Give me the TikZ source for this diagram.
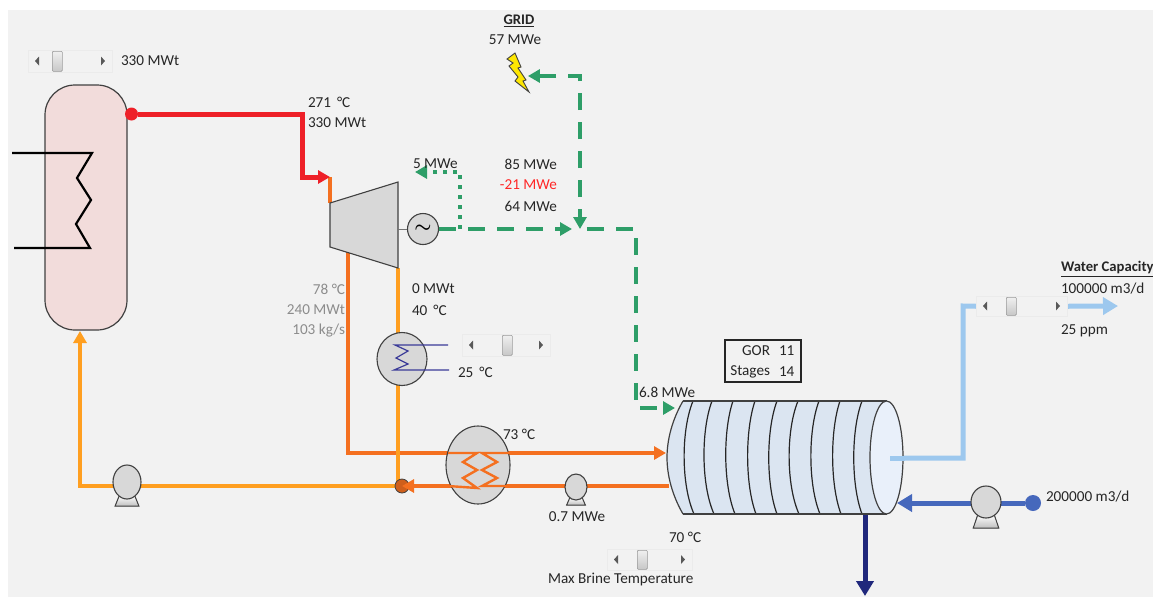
\documentclass[tikz,border=0pt]{standalone}
\usepackage{fontspec}
\setmainfont{Carlito}
\usetikzlibrary{arrows.meta,shapes.geometric,calc}
\pgfdeclarelayer{bg}\pgfdeclarelayer{pipes}\pgfsetlayers{bg,pipes,main}
\definecolor{pagegray}{HTML}{F2F2F2}
\definecolor{shapegray}{HTML}{D8D8D8}
\definecolor{reactorpink}{HTML}{F2DCDB}
\definecolor{redpipe}{HTML}{EE2028}
\definecolor{orangepipe}{HTML}{F47020}
\definecolor{amberpipe}{HTML}{FF9F20}
\definecolor{greenpipe}{HTML}{2E9E68}
\definecolor{lightbluepipe}{HTML}{9DC8EE}
\definecolor{bluepipe}{HTML}{4668BC}
\definecolor{navypipe}{HTML}{20287C}
\definecolor{coilblue}{HTML}{3A3A98}
\definecolor{bodyblue}{HTML}{DBE5F1}
\definecolor{endblue}{HTML}{E9F0FA}
\definecolor{textgray}{HTML}{8C8C8C}
\definecolor{outline}{HTML}{404040}
\def\px{0.75pt}
\tikzset{
  lbl/.style={inner sep=0pt,outer sep=0pt,font=\fontsize{11.4}{13}\selectfont,text=black!85},
  lblL/.style={lbl,anchor=west},
  lblR/.style={lbl,anchor=east},
  pipe/.style={line width=4*\px,line join=miter},
  widepipe/.style={line width=5*\px,line join=miter},
  pipetip/.style={-{Triangle[length=12*\px,width=13*\px]}},
  bigtip/.style={-{Triangle[length=15*\px,width=17*\px]}},
  greendash/.style={pipe,color=greenpipe,dash pattern=on 17*\px off 12*\px,pipetip},
  greendot/.style={pipe,color=greenpipe,dash pattern=on 4*\px off 6*\px,pipetip},
  equip/.style={draw=outline,line width=1.1*\px,fill=shapegray},
  dotnode/.style={circle,inner sep=0pt,minimum size=#1*\px},
  track/.style={rectangle,fill=black!5,draw=black!8,line width=.5*\px,inner sep=0pt,anchor=north west},
  thumb/.style={rectangle,rounded corners=1*\px,draw=black!40,line width=.6*\px,inner sep=0pt,anchor=north west,top color=black!6,bottom color=black!22},
  pumpbody/.style={ellipse,equip,inner sep=0pt},
  coilline/.style={line width=2.4*\px,line join=miter},
}
% slider: name, x1, y1, x2, y2, thumb x
\newcommand{\hmislider}[6]{%
  \node[track,minimum width={(#4-#2)*\px},minimum height={(#5-#3)*\px}] (#1) at (#2,#3) {};
  \node[thumb,minimum width=10*\px,minimum height={(#5-#3-2)*\px}] (#1t) at (#6,#3+1) {};
  \fill[black!65] ($(#2,{(#3+#5)/2})+(7,0)$) -- ++(4,-4.5) -- ++(0,9) -- cycle;
  \fill[black!65] ($(#4,{(#3+#5)/2})+(-7,0)$) -- ++(-4,-4.5) -- ++(0,9) -- cycle;
}
% pump: name, x, y, rx, ry, base bottom y
\newcommand{\hmipump}[6]{%
  \filldraw[draw=outline,line width=1*\px,top color=white,bottom color=black!25] (#2-#4*.55,#3+#5*.8) -- (#2+#4*.55,#3+#5*.8) -- (#2+#4*.85,#6) -- (#2-#4*.85,#6) -- cycle;
  \node[pumpbody,minimum width={2*#4*\px},minimum height={2*#5*\px}] (#1) at (#2,#3) {};
}
\begin{document}
\begin{tikzpicture}[x=0.75pt,y=-0.75pt]
\useasboundingbox (0,0) rectangle (1153,597);
\begin{pgfonlayer}{bg}
\fill[pagegray] (8,10) rectangle (1153,597);
\end{pgfonlayer}

% reactor
\node[rectangle,rounded corners=30*\px,draw=outline,line width=1.2*\px,fill=reactorpink,minimum width=82*\px,minimum height=245*\px,inner sep=0pt] (reactor) at (86,207.5) {};
\draw[black,line width=2.2*\px,line join=miter] (12,153) -- (92,153) -- (77,178) -- (91,200) -- (76,224) -- (90,248) -- (14,248);
\node[dotnode=13,fill=redpipe] (hotdot) at (131.5,114) {};

% turbine + generator
\filldraw[equip] (330,203) -- (398,182) -- (398,268) -- (330,247) -- cycle;
\coordinate (turbIn) at (330,177);
\coordinate (turbTop) at (330,203);
\coordinate (turbOut1) at (348,252);
\coordinate (turbOut2) at (398,268);
\node[circle,equip,minimum size=31*\px,inner sep=0pt,font=\fontsize{14}{14}\selectfont\boldmath] (gen) at (423,229) {$\sim$};
\draw[black!55,line width=.8*\px] (398,229) -- (gen.west);

% condenser
\node[ellipse,equip,minimum width=50*\px,minimum height=53*\px,inner sep=0pt] (cond) at (402,359) {};
\draw[coilblue,line width=1.2*\px] (448,345) -- (395,345) -- (408,351) -- (396,358) -- (408,364) -- (394,370) -- (449,370);

% HX
\node[ellipse,equip,minimum width=64*\px,minimum height=78*\px,inner sep=0pt] (hx) at (478,465) {};
\draw[orangepipe,coilline] (448,453) -- (477,453) -- (463,462) -- (477,470) -- (463,478) -- (477,488) -- (448,486);
\draw[orangepipe,coilline] (510,453) -- (482,453) -- (497,462) -- (482,470) -- (497,478) -- (482,486) -- (510,486);

% pumps
\hmipump{pumpA}{127}{482}{14}{17}{506}
\hmipump{pumpB}{576}{487}{11}{13}{505}
\hmipump{pumpC}{986}{502}{15}{16}{528}

% cylinder
\fill[bodyblue] (683,401) .. controls (672,420) and (667,440) .. (667,457.5) .. controls (667,475) and (672,495) .. (683,514) -- (887,514) -- (887,401) -- cycle;
\draw[outline,line width=1.2*\px] (683,401) .. controls (672,420) and (667,440) .. (667,457.5) .. controls (667,475) and (672,495) .. (683,514);
\foreach \t/\m/\b in {693/683/694,712/703/714,733/725/735,755/747/756,777/768/777,798/788/799,819/810/820,840/832/841,862/853/862}{
  \draw[black!85,line width=1.2*\px] (\t,401) .. controls (\m-2,430) and (\m-2,485) .. (\b,514);
}
\draw[outline,line width=1.2*\px] (683,401) -- (887,401) (683,514) -- (887,514);
\node[ellipse,draw=outline,line width=1.2*\px,fill=endblue,minimum width=33*\px,minimum height=113*\px,inner sep=0pt] (cylEnd) at (886.5,457.5) {};
\coordinate (cylLeftUp) at (666,453);
\coordinate (cylLeftLow) at (669,486);
\coordinate (cylPower) at (675,408);
\coordinate (brineOut) at (865,514);
\coordinate (brineTip) at (865,596);
\coordinate (feedIn) at (897,503);
\coordinate (prodStart) at (890,458);

% GOR box
\node[rectangle,draw=black!85,line width=1.2*\px,minimum width=76*\px,minimum height=42*\px,inner sep=0pt] (gorbox) at (763,361) {};
\node[lblR] (gorA) at (770,351) {GOR};
\node[lblL] (gorB) at (779,351) {11};
\node[lblR] (stA) at (770,372) {Stages};
\node[lblL] (stB) at (779,372) {14};

% sliders
\hmislider{sliderA}{28}{50}{112}{72}{52}
\hmislider{sliderB}{462}{334}{550}{356}{502}
\hmislider{sliderC}{607}{549}{692}{570}{637}
\hmislider{sliderD}{976}{296}{1067}{316}{1006}

% junctions
\node[dotnode=14,fill=orangepipe!85!black,draw=outline,line width=.8*\px] (junction) at (402,486) {};
\node[dotnode=16,fill=bluepipe] (feedDot) at (1033,503) {};

% lightning
\filldraw[fill=yellow!90!orange,draw=outline,line width=.9*\px,line join=miter] (507,59) -- (515,53) -- (521,67) -- (518,68) -- (526,80) -- (523,81) -- (529,92) -- (515,81) -- (518,77) -- (509,66) -- (513,63) -- cycle;
\node[inner sep=0pt,minimum size=1pt] (bolt) at (527,76) {};

% named points on the routes
\coordinate (hotBend) at (302,114);
\coordinate (hotBend2) at (302,177);
\coordinate (gridCorner) at (580,76);
\coordinate (busNode) at (580,229);
\coordinate (busArrow) at (572,229);
\coordinate (busCorner) at (636,229);
\coordinate (busLow) at (636,408);
\coordinate (dotTee) at (460,229);
\coordinate (dotCorner) at (460,172);
\coordinate (dotTip) at (415,172);
\coordinate (retBend) at (80,486);
\coordinate (reactorBottom) at (80,331);
\coordinate (lowerBend) at (348,453);
\coordinate (prodBend1) at (963,458);
\coordinate (prodBend2) at (963,306);
\coordinate (prodTip) at (1118,306);

\begin{pgfonlayer}{pipes}
\draw[pipe,orangepipe] (turbIn) -- (turbTop);
\draw[widepipe,redpipe,pipetip] (hotdot) -- (hotBend) -- (hotBend2) -- (turbIn);
\draw[pipe,orangepipe,pipetip] (turbOut1) -- (lowerBend) -- (cylLeftUp);
\draw[pipe,amberpipe] (turbOut2) -- (398,486);
\draw[pipe,amberpipe,pipetip] (junction) -- (retBend) -- (reactorBottom);
\draw[pipe,orangepipe] (cylLeftLow) -- (junction.east);
\draw[greendash] (gen.east) -- (busArrow);
\draw[greendash] (busNode) ++(7,0) -- (busCorner) -- (busLow) -- (cylPower);
\draw[greendash] (busNode) ++(0,-3) -- (gridCorner) -- (bolt);
\draw[greenpipe,line width=4*\px,pipetip] (580,215) -- (busNode);
\draw[greendot] (dotTee) -- (dotCorner) -- (dotTip);
\draw[widepipe,lightbluepipe] (prodStart) -- (prodBend1) -- (prodBend2) -- (sliderD.west);
\draw[widepipe,lightbluepipe,bigtip] (sliderD.east) -- (prodTip);
\draw[widepipe,bluepipe,bigtip] (feedDot) -- (feedIn);
\draw[widepipe,navypipe,bigtip] (brineOut) -- (brineTip);
\end{pgfonlayer}
\draw[widepipe,lightbluepipe] (prodStart) -- (905,458);
\draw[pipe,orangepipe,pipetip] (418,486) -- (junction.center);

% labels
\node[lblL] (t1) at (121,61) {330 MWt};
\node[lblL] (t2) at (308,102) {271 \,°C};
\node[lblL] (t3) at (308,123) {330 MWt};
\node[lbl,font=\fontsize{11}{13}\selectfont\bfseries] (t4) at (519,21) {\underline{GRID}};
\node[lbl] (t5) at (515,40) {57 MWe};
\node[lblL] (t6) at (413,164) {5 MWe};
\node[lblR] (t7) at (557,164) {85 MWe};
\node[lblR,text=red!85!white] (t8) at (557,185) {-21 MWe};
\node[lblR] (t9) at (557,206) {64 MWe};
\node[lblR,text=textgray] (t10) at (345,289) {78 °C};
\node[lblR,text=textgray] (t11) at (345,310) {240 MWt};
\node[lblR,text=textgray] (t12) at (345,331) {103 kg/s};
\node[lblL] (t13) at (412,289) {0 MWt};
\node[lblL] (t14) at (412,310) {40 \,°C};
\node[lblL] (t15) at (458,372) {25 \,°C};
\node[lblL] (t16) at (503,434) {73 °C};
\node[lbl] (t17) at (577,517) {0.7 MWe};
\node[lblL] (t18) at (639,392) {6.8 MWe};
\node[lblL] (t19) at (669,537) {70 °C};
\node[lblL] (t20) at (548,579) {Max Brine Temperature};
\node[lblL,font=\fontsize{11}{13}\selectfont\bfseries] (t21) at (1061,269) {\underline{Water Capacity}};
\node[lblL] (t22) at (1061,289) {100000 m3/d};
\node[lblL] (t23) at (1061,331) {25 ppm};
\node[lblL] (t24) at (1046,497) {200000 m3/d};
\end{tikzpicture}
\end{document}
